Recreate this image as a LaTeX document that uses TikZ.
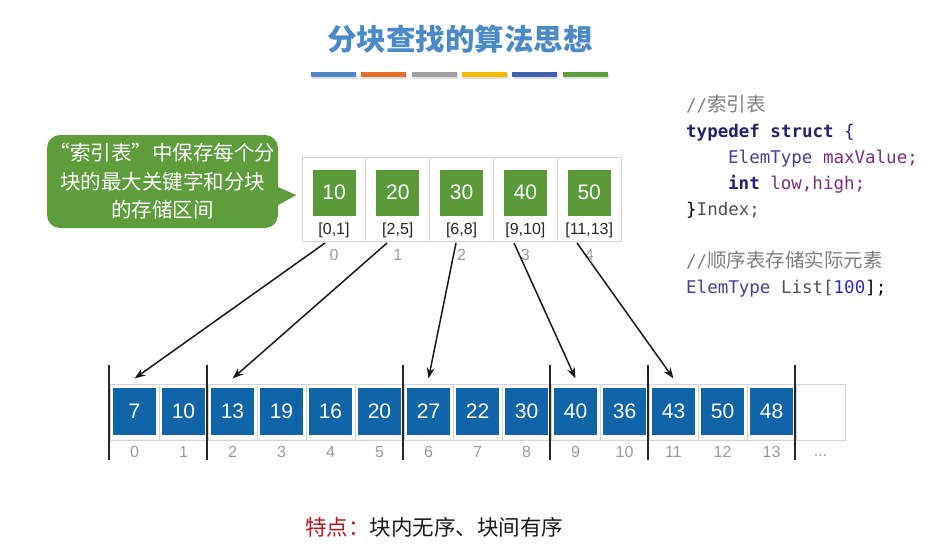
\documentclass[tikz,border=0pt]{standalone}
\usepackage{fontspec}
\setmainfont{Liberation Sans}
\setmonofont{DejaVu Sans Mono}
\newfontfamily\cjk{Noto Sans CJK SC}
\usetikzlibrary{calc,arrows.meta}

\definecolor{titleblue}{HTML}{4A8AC8}
\definecolor{barorange}{HTML}{E0702A}
\definecolor{bargray}{HTML}{A0A0A0}
\definecolor{baryellow}{HTML}{F5B800}
\definecolor{bardblue}{HTML}{3F60AE}
\definecolor{bargreen}{HTML}{5C9F3A}
\definecolor{notegreen}{HTML}{5E9D3C}
\definecolor{gsqcol}{HTML}{5A9A3A}
\definecolor{bsqcol}{HTML}{1064A8}
\definecolor{gridgray}{HTML}{D4D4D4}
\definecolor{idxgray}{HTML}{9A9A9A}
\definecolor{kwnavy}{HTML}{23226E}
\definecolor{typeblue}{HTML}{4A3B98}
\definecolor{varpurple}{HTML}{7A2C7E}
\definecolor{cmtgray}{HTML}{7F7F7F}
\definecolor{plaingray}{HTML}{505050}
\definecolor{numblue}{HTML}{2A2ACF}
\definecolor{redlabel}{HTML}{C0161B}

\tikzset{
  icell/.style={draw=gridgray, line width=1pt, minimum width=63.8pt, minimum height=84pt, inner sep=0pt},
  acell/.style={draw=gridgray, line width=1pt, minimum width=49pt, minimum height=56pt, inner sep=0pt},
  gsq/.style={fill=gsqcol, minimum width=43pt, minimum height=46pt, inner sep=0pt,
    text=white, font=\fontsize{21}{24}\selectfont},
  bsq/.style={fill=bsqcol, minimum width=43pt, minimum height=47pt, inner sep=0pt,
    text=white, font=\fontsize{21}{24}\selectfont},
  rangelbl/.style={inner sep=0pt, font=\fontsize{16}{18}\selectfont, text=black!85},
  idx/.style={inner sep=0pt, font=\fontsize{16}{18}\selectfont, text=idxgray},
  blockbar/.style={line width=2pt, draw=black!85},
  ptr/.style={line width=1.5pt, draw=black!90, -{Stealth[length=11pt,width=8pt]}},
  codeline/.style={anchor=base west, inner sep=0pt, font=\ttfamily\fontsize{17.5}{26}\selectfont},
  colourbar/.style={minimum width=45pt, minimum height=5pt, inner sep=0pt},
}
% full-width quotation marks hugging the enclosed word
\newcommand{\openq}{\makebox[20.5pt][r]{“}}
\newcommand{\closeq}{\makebox[20.5pt][l]{”}}

\begin{document}
\begin{tikzpicture}[x=1pt,y=-1pt]
\useasboundingbox (0,0) rectangle (935,555);

% title and coloured rule
\node[font=\cjk\bfseries\fontsize{29.5}{32}\selectfont, text=titleblue, inner sep=0pt] (title) at (460,39) {分块查找的算法思想};
\foreach \c [count=\i from 0] in {titleblue,barorange,bargray,baryellow,bardblue,bargreen} {
  \fill[black, opacity=0.12] ({311+50.3*\i+1},73.8) rectangle ++(45,5);
  \node[colourbar, fill=\c] (rule\i) at ({333.5+50.3*\i},74.5) {};
}

% index table
\foreach \v [count=\i from 0] in {10,20,30,40,50} {
  \node[icell] (ic\i) at ({334+63.8*\i},199) {};
  \node[gsq] (gs\i) at ({334+63.8*\i},192.5) {\v};
  \node[idx] (in\i) at ({334+63.8*\i},255) {\i};
}
\foreach \l [count=\i from 0] in {{[0,1]},{[2,5]},{[6,8]},{[9,10]},{[11,13]}} {
  \node[rangelbl] (lb\i) at ({334+63.8*\i},230) {\l};
}

% callout
\node[fill=notegreen, rounded corners=13pt, minimum width=231pt, minimum height=93pt, inner sep=0pt,
  text=white, align=center, font=\cjk\fontsize{20.5}{28.5}\selectfont] (note) at (162.5,181.5)
  {\openq 索引表\closeq 中保存每个分\\块的最大关键字和分块\\的存储区间};
\fill[notegreen] ($(note.east)+(-5,3.5)$) -- ($(note.east)+(18,13.5)$) -- ($(note.east)+(-5,26.5)$) -- cycle;

% code
\node[codeline, text=cmtgray] (code1) at (686,111.5) {//{\cjk\fontsize{19.5}{26}\selectfont 索引表}};
\node[codeline, text=kwnavy] (code2) at (686,137.5) {\bfseries typedef struct \mdseries\{};
\node[codeline] (code3) at (728,163.5) {\textcolor{typeblue}{ElemType} \textcolor{varpurple}{maxValue;}};
\node[codeline] (code4) at (728,189.5) {\textcolor{kwnavy}{\bfseries int} \textcolor{varpurple}{low,high;}};
\node[codeline] (code5) at (686,215.5) {\textcolor{black}{\}}\textcolor{plaingray}{Index;}};
\node[codeline, text=cmtgray] (code7) at (686,267.5) {//{\cjk\fontsize{19.5}{26}\selectfont 顺序表存储实际元素}};
\node[codeline] (code8) at (686,293.5) {\textcolor{typeblue}{ElemType} \textcolor{plaingray}{List[}\textcolor{numblue}{100}\textcolor{black}{];}};

% list array
\foreach \i in {0,...,14} {
  \node[acell] (ac\i) at ({134.5+49*\i},412) {};
}
\foreach \v [count=\i from 0] in {7,10,13,19,16,20,27,22,30,40,36,43,50,48} {
  \node[bsq] (bs\i) at ({134.5+49*\i},411.5) {\v};
  \node[idx] (an\i) at ({134.5+49*\i},452) {\i};
}
\node[idx] (dots) at (820.5,456) {...};

% block separators
\foreach \k in {0,2,6,9,11,14} {
  \draw[blockbar] ($(ac\k.north west)+(-1,-19)$) -- ($(ac\k.south west)+(-1,19)$);
}

% pointers from index entries to block starts
\coordinate (s0) at (325,243);
\coordinate (s1) at (387,243);
\coordinate (s2) at (456,243);
\coordinate (s3) at (514,243);
\coordinate (s4) at (577,243);
\foreach \a/\b in {0/0,1/2,2/6,3/9,4/11} {
  \coordinate (t\a) at ($(ac\b.north)+(0,-5)$);
  \draw[ptr] (s\a) -- (t\a);
}

% footer
\node[font=\cjk\fontsize{21.5}{24}\selectfont, inner sep=0pt] (feature) at (434,527)
  {\textcolor{redlabel}{特点：}\textcolor{black!90}{块内无序、块间有序}};
\end{tikzpicture}
\end{document}
